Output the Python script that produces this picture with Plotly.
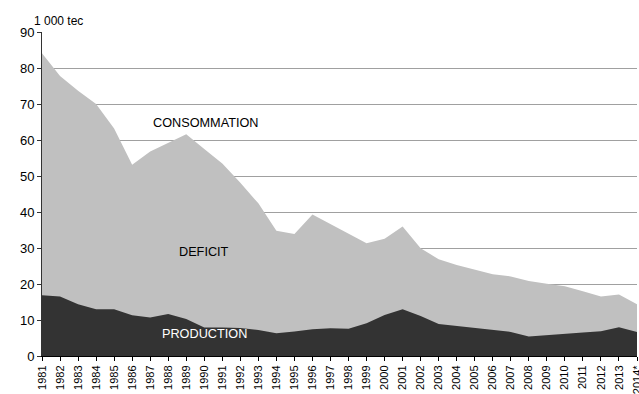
import plotly.graph_objects as go

# years on the x axis, last one is provisional
years = list(range(1981, 2015))
year_labels = [str(y) for y in years[:-1]] + ["2014*"]

# consommation totale (1 000 tec)
consommation = [84.1, 77.8, 73.7, 70.0, 63.2, 53.1, 56.8, 59.3, 61.6, 57.5,
                53.5, 48.1, 42.4, 34.8, 33.9, 39.3, 36.6, 34.1, 31.3, 32.6,
                36.0, 29.9, 26.9, 25.3, 24.1, 22.7, 22.1, 20.8, 20.1, 19.4,
                18.0, 16.5, 17.1, 14.4]

# production (1 000 tec)
production = [16.9, 16.5, 14.4, 13.0, 13.0, 11.3, 10.7, 11.7, 10.3, 7.9,
              7.9, 7.8, 7.2, 6.3, 6.8, 7.4, 7.7, 7.6, 9.1, 11.4,
              13.0, 11.1, 8.9, 8.3, 7.8, 7.2, 6.7, 5.4, 5.7, 6.2,
              6.5, 6.9, 8.0, 6.7]

font = "Liberation Sans, Arial, sans-serif"

fig = go.Figure()
fig.add_trace(go.Scatter(x=years, y=consommation, mode="lines",
                         line=dict(width=0), fill="tozeroy",
                         fillcolor="#c0c0c0", name="Consommation"))
fig.add_trace(go.Scatter(x=years, y=production, mode="lines",
                         line=dict(width=0), fill="tozeroy",
                         fillcolor="#333333", name="Production"))

# labels inside the areas
fig.add_annotation(x=1990.1, y=64.7, text="CONSOMMATION", showarrow=False,
                   font=dict(size=12.7, color="#000000"))
fig.add_annotation(x=1990.0, y=29, text="DEFICIT", showarrow=False,
                   font=dict(size=12.7, color="#000000"))
fig.add_annotation(x=1990.0, y=6.1, text="PRODUCTION", showarrow=False,
                   font=dict(size=12.7, color="#ffffff"))
fig.add_annotation(xref="paper", yref="paper", x=0, y=1.0,
                   xanchor="left", yanchor="bottom", xshift=-10, yshift=2,
                   text="1 000 tec", showarrow=False,
                   font=dict(size=12, color="#000000"))

fig.update_layout(
    width=639, height=394,
    margin=dict(l=42, r=2, t=32, b=38, autoexpand=False),
    plot_bgcolor="white", paper_bgcolor="white",
    showlegend=False,
    font=dict(family=font, size=12, color="#000000"),
)
fig.update_xaxes(range=[1981, 2014], tickmode="array", tickvals=years,
                 ticktext=year_labels, tickangle=-90, automargin=False,
                 ticklabeloverflow="allow",
                 tickfont=dict(size=11), showgrid=False,
                 showline=True, linecolor="#000000", linewidth=1,
                 ticks="outside", ticklen=4, tickcolor="#000000")
fig.update_yaxes(range=[0, 90], dtick=10, showgrid=True, automargin=False,
                 gridcolor="#a0a0a0", gridwidth=1, zeroline=False,
                 showline=True, linecolor="#333333", linewidth=1,
                 ticks="outside", ticklen=4, tickcolor="#333333",
                 tickfont=dict(size=13))

# drop the default 8px body margin so the figure fills the window
fig.write_html("out.html", config={"displayModeBar": False},
               post_script="document.body.style.margin='0px';")
